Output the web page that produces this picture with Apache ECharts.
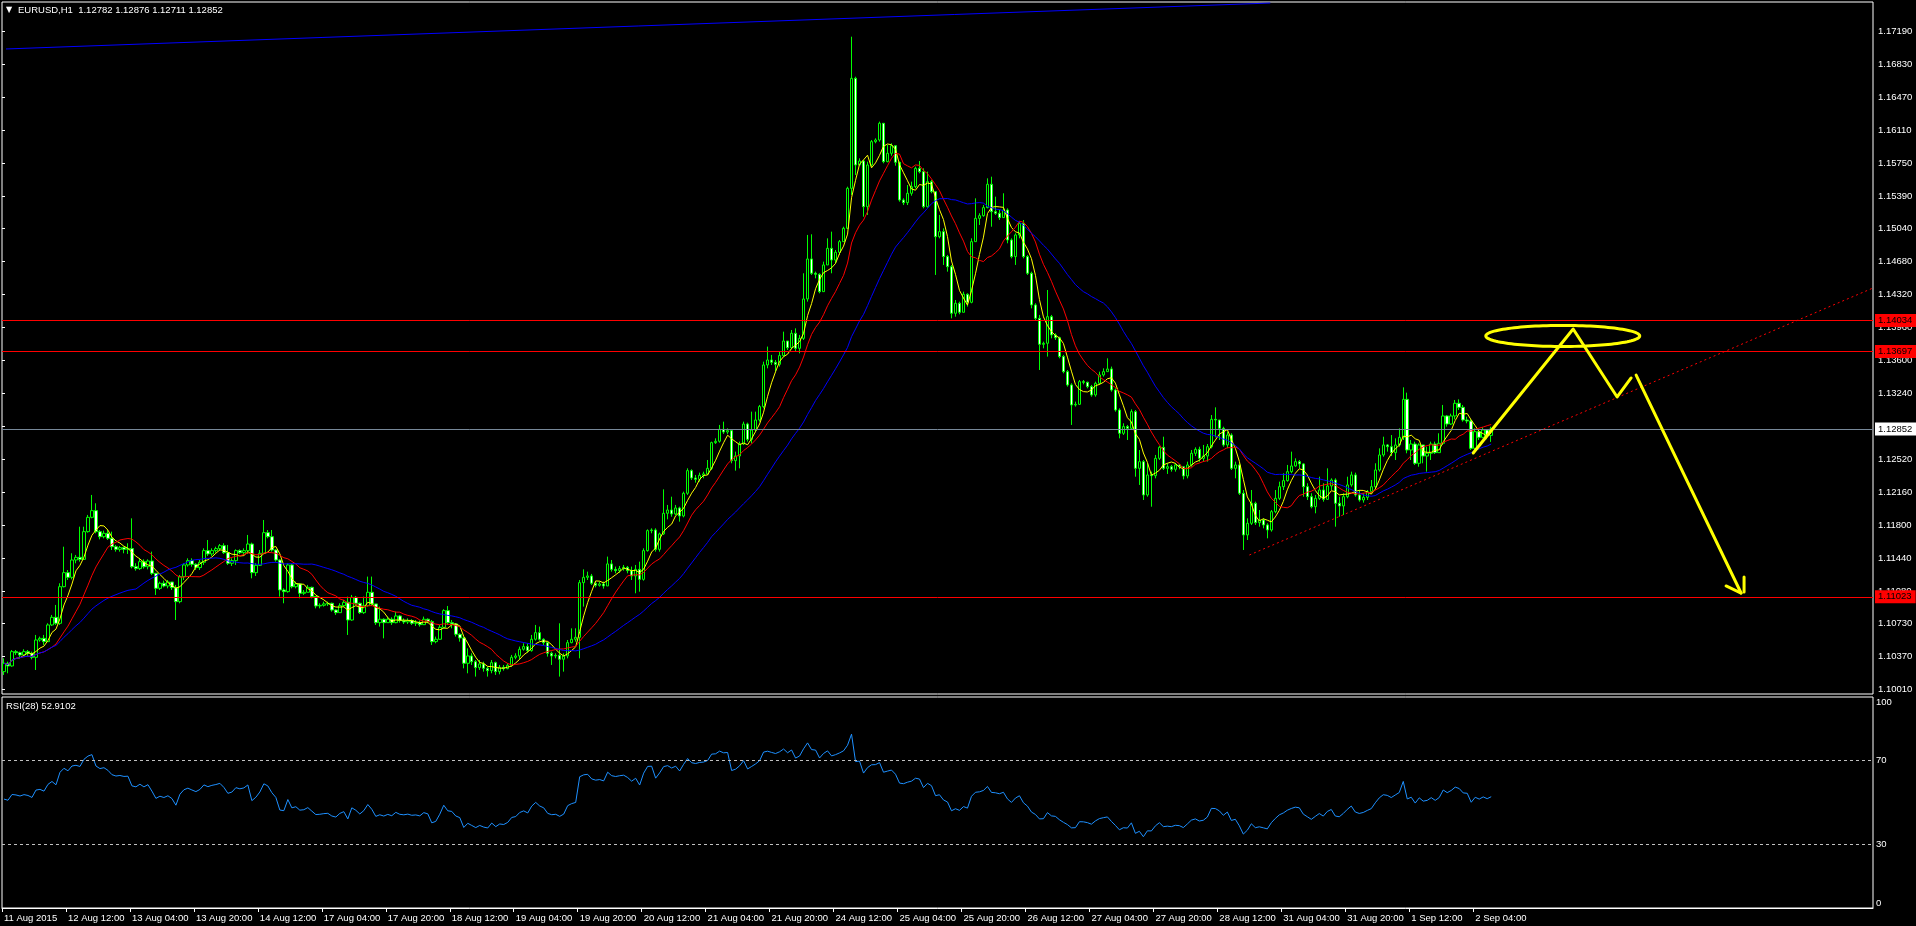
<!DOCTYPE html>
<html><head><meta charset="utf-8">
<script src="https://cdn.jsdelivr.net/npm/echarts@6/dist/echarts.min.js"></script>
<style>html,body{margin:0;padding:0;background:#000;overflow:hidden}#c{width:1916px;height:926px}</style>
</head><body><div id="c"></div>
<script>
// ---------- DATA (EURUSD H1) ----------
const symbolTitle = 'EURUSD,H1  1.12782 1.12876 1.12711 1.12852';
const rsiTitle = 'RSI(28) 52.9102';
const firstOpen = 1.10207;
const closes = [
1.10298,1.10269,1.10425,1.10414,1.10389,1.10425,1.10407,1.10363,1.10552,1.10570,
1.10534,1.10716,1.10799,1.10734,1.11133,1.11286,1.11235,1.11424,1.11453,1.11431,
1.11733,1.11889,1.11962,1.11733,1.11678,1.11715,1.11660,1.11569,1.11540,1.11559,
1.11540,1.11548,1.11351,1.11330,1.11406,1.11351,1.11413,1.11279,1.11115,1.11170,
1.11141,1.11184,1.11123,1.10970,1.11243,1.11370,1.11417,1.11377,1.11341,1.11399,
1.11526,1.11490,1.11526,1.11548,1.11580,1.11504,1.11388,1.11417,1.11526,1.11504,
1.11526,1.11598,1.11286,1.11366,1.11497,1.11722,1.11678,1.11533,1.11424,1.11097,
1.11079,1.11370,1.11133,1.11163,1.11061,1.11072,1.11126,1.11025,1.10923,1.10930,
1.10945,1.10952,1.10879,1.10850,1.10926,1.10963,1.10770,1.11017,1.10952,1.10850,
1.10926,1.11072,1.10945,1.10741,1.10778,1.10741,1.10778,1.10741,1.10814,1.10763,
1.10749,1.10763,1.10734,1.10741,1.10719,1.10778,1.10752,1.10534,1.10560,1.10690,
1.10872,1.10741,1.10727,1.10614,1.10574,1.10298,1.10378,1.10316,1.10251,1.10291,
1.10243,1.10218,1.10305,1.10207,1.10254,1.10240,1.10276,1.10363,1.10378,1.10451,
1.10480,1.10436,1.10560,1.10632,1.10560,1.10523,1.10407,1.10378,1.10385,1.10342,
1.10378,1.10523,1.10560,1.10581,1.11177,1.11235,1.11250,1.11170,1.11148,1.11163,
1.11141,1.11381,1.11322,1.11308,1.11330,1.11344,1.11308,1.11250,1.11322,1.11213,
1.11526,1.11744,1.11751,1.11540,1.11708,1.11933,1.11969,1.11926,1.11991,1.11904,
1.12151,1.12398,1.12318,1.12303,1.12347,1.12362,1.12423,1.12703,1.12718,1.12848,
1.12819,1.12834,1.12507,1.12558,1.12689,1.12906,1.12739,1.12841,1.12950,1.13096,
1.13550,1.13604,1.13579,1.13557,1.13652,1.13811,1.13738,1.13895,1.13731,1.13840,
1.14269,1.14705,1.14549,1.14538,1.14349,1.14640,1.14821,1.14694,1.14778,1.14894,
1.15039,1.15475,1.16674,1.15730,1.15773,1.15275,1.15730,1.15984,1.16002,1.16184,
1.15766,1.15857,1.15940,1.15759,1.15348,1.15319,1.15421,1.15493,1.15693,1.15657,
1.15275,1.15548,1.15439,1.14948,1.15003,1.14731,1.14621,1.14113,1.14222,1.14124,
1.14320,1.14233,1.14894,1.15148,1.15177,1.15265,1.15519,1.15221,1.15203,1.15156,
1.15239,1.14912,1.14731,1.14967,1.15094,1.14731,1.14549,1.14204,1.14058,1.13775,
1.13786,1.14076,1.13877,1.13847,1.13641,1.13477,1.13332,1.13114,1.13121,1.13368,
1.13361,1.13314,1.13223,1.13350,1.13441,1.13477,1.13506,1.13277,1.13059,1.12805,
1.12878,1.12859,1.13041,1.12423,1.12496,1.12133,1.12351,1.12343,1.12532,1.12652,
1.12423,1.12441,1.12412,1.12460,1.12441,1.12340,1.12460,1.12587,1.12630,1.12532,
1.12557,1.12659,1.12957,1.12950,1.12859,1.12678,1.12786,1.12423,1.12460,1.12151,
1.11697,1.11824,1.12042,1.11831,1.11860,1.11806,1.11751,1.11951,1.12096,1.12223,
1.12289,1.12387,1.12449,1.12496,1.12471,1.12223,1.12114,1.12005,1.12096,1.12187,
1.12085,1.12231,1.12296,1.12042,1.12013,1.12114,1.12242,1.12351,1.12133,1.12078,
1.12107,1.12169,1.12223,1.12405,1.12569,1.12678,1.12659,1.12594,1.12678,1.12761,
1.13175,1.12623,1.12688,1.12478,1.12678,1.12557,1.12587,1.12688,1.12594,1.12696,
1.12994,1.12906,1.12994,1.13132,1.13088,1.12950,1.12939,1.12641,1.12823,1.12761,
1.12841,1.12782,1.12852];
const highs = [
1.10352,1.10316,1.10443,1.10443,1.10425,1.10451,1.10443,1.10425,1.10607,1.10589,
1.10607,1.10734,1.10825,1.10934,1.11170,1.11569,1.11315,1.11497,1.11479,1.11787,
1.11787,1.11915,1.12133,1.12042,1.11751,1.11744,1.11751,1.11733,1.11588,1.11577,
1.11569,1.11606,1.11878,1.11388,1.11442,1.11431,1.11431,1.11515,1.11279,1.11188,
1.11199,1.11206,1.11170,1.11152,1.11261,1.11388,1.11442,1.11442,1.11388,1.11424,
1.11551,1.11642,1.11551,1.11569,1.11598,1.11606,1.11588,1.11442,1.11540,1.11540,
1.11551,1.11697,1.11613,1.11388,1.11533,1.11860,1.11751,1.11751,1.11540,1.11431,
1.11115,1.11388,1.11381,1.11188,1.11170,1.11097,1.11152,1.11133,1.11032,1.10952,
1.10970,1.10970,1.10959,1.10886,1.10952,1.10988,1.11025,1.11043,1.11032,1.10959,
1.11025,1.11243,1.11243,1.10923,1.10916,1.10788,1.10807,1.10799,1.10861,1.10825,
1.10788,1.10788,1.10778,1.10770,1.10763,1.10807,1.10788,1.10770,1.10589,1.10716,
1.10887,1.10923,1.10770,1.10734,1.10625,1.10589,1.10461,1.10407,1.10334,1.10334,
1.10316,1.10262,1.10334,1.10316,1.10280,1.10280,1.10298,1.10389,1.10407,1.10480,
1.10516,1.10516,1.10607,1.10716,1.10698,1.10570,1.10534,1.10425,1.10407,1.10734,
1.10407,1.10552,1.10679,1.10679,1.11206,1.11322,1.11297,1.11272,1.11188,1.11188,
1.11188,1.11461,1.11424,1.11352,1.11359,1.11370,1.11359,1.11352,1.11370,1.11406,
1.11551,1.11758,1.11769,1.11769,1.11722,1.12194,1.12024,1.12114,1.12024,1.12005,
1.12169,1.12423,1.12412,1.12351,1.12376,1.12387,1.12514,1.12714,1.12750,1.12896,
1.12932,1.12859,1.12841,1.12605,1.12714,1.12932,1.12921,1.13041,1.13041,1.13114,
1.13586,1.13750,1.13659,1.13604,1.13695,1.13913,1.13786,1.13931,1.13949,1.13877,
1.14549,1.14967,1.14974,1.14567,1.14549,1.14676,1.14930,1.15003,1.14803,1.14912,
1.15057,1.15493,1.17128,1.16692,1.15802,1.15784,1.15766,1.16002,1.16020,1.16202,
1.16184,1.15948,1.15966,1.15893,1.15766,1.15366,1.15511,1.15548,1.15712,1.15773,
1.15693,1.15657,1.15566,1.15439,1.15185,1.15039,1.14749,1.14639,1.14258,1.14240,
1.14349,1.14331,1.14930,1.15366,1.15203,1.15293,1.15584,1.15602,1.15384,1.15239,
1.15421,1.15257,1.14930,1.14985,1.15112,1.15130,1.14749,1.14567,1.14222,1.14095,
1.13804,1.14367,1.14095,1.13895,1.13858,1.13659,1.13495,1.13350,1.13150,1.13386,
1.13386,1.13368,1.13332,1.13368,1.13477,1.13513,1.13622,1.13532,1.13295,1.13077,
1.12914,1.12896,1.13066,1.13059,1.12623,1.12514,1.12478,1.12387,1.12569,1.12666,
1.12768,1.12478,1.12460,1.12478,1.12471,1.12441,1.12496,1.12623,1.12652,1.12659,
1.12678,1.12688,1.13004,1.13088,1.12896,1.12877,1.12823,1.12805,1.12496,1.12478,
1.12187,1.11878,1.12187,1.12060,1.11969,1.11878,1.11824,1.11969,1.12187,1.12278,
1.12369,1.12460,1.12605,1.12532,1.12514,1.12478,1.12260,1.12151,1.12133,1.12332,
1.12260,1.12423,1.12314,1.12314,1.12114,1.12151,1.12332,1.12387,1.12376,1.12187,
1.12151,1.12187,1.12296,1.12478,1.12641,1.12768,1.12688,1.12786,1.12750,1.12859,
1.13306,1.13248,1.12732,1.12714,1.12696,1.12641,1.12659,1.12714,1.12714,1.12805,
1.13114,1.13004,1.13019,1.13168,1.13175,1.13114,1.12986,1.12957,1.12859,1.12852,
1.12870,1.12830,1.12876];
const lows = [
1.10171,1.10189,1.10261,1.10389,1.10352,1.10389,1.10378,1.10341,1.10225,1.10534,
1.10498,1.10552,1.10705,1.10716,1.10716,1.11126,1.11206,1.11213,1.11388,1.11406,
1.11424,1.11722,1.11878,1.11715,1.11649,1.11660,1.11642,1.11533,1.11515,1.11515,
1.11497,1.11490,1.11333,1.11308,1.11315,1.11330,1.11322,1.11261,1.11043,1.11097,
1.11126,1.11115,1.11097,1.10770,1.10952,1.11206,1.11351,1.11351,1.11315,1.11315,
1.11370,1.11468,1.11468,1.11504,1.11526,1.11490,1.11370,1.11359,1.11370,1.11490,
1.11479,1.11490,1.11224,1.11250,1.11359,1.11490,1.11660,1.11515,1.11406,1.11025,
1.10952,1.11068,1.11115,1.11115,1.11006,1.11043,1.11079,1.11006,1.10897,1.10897,
1.10916,1.10923,1.10861,1.10825,1.10861,1.10916,1.10607,1.10762,1.10934,1.10836,
1.10836,1.10916,1.10923,1.10716,1.10698,1.10570,1.10741,1.10716,1.10734,1.10741,
1.10727,1.10727,1.10716,1.10705,1.10698,1.10716,1.10734,1.10498,1.10516,1.10552,
1.10679,1.10716,1.10679,1.10589,1.10534,1.10243,1.10189,1.10280,1.10153,1.10225,
1.10207,1.10153,1.10189,1.10171,1.10178,1.10218,1.10233,1.10262,1.10342,1.10342,
1.10436,1.10414,1.10425,1.10545,1.10545,1.10498,1.10371,1.10280,1.10352,1.10153,
1.10207,1.10352,1.10516,1.10534,1.10352,1.10916,1.11206,1.11152,1.11126,1.11134,
1.11112,1.11152,1.11297,1.11279,1.11286,1.11308,1.11279,1.11206,1.11061,1.11079,
1.11199,1.11515,1.11715,1.11515,1.11515,1.11697,1.11867,1.11896,1.11911,1.11842,
1.11889,1.12133,1.12296,1.12267,1.12278,1.12314,1.12351,1.12405,1.12689,1.12703,
1.12798,1.12798,1.12478,1.12398,1.12423,1.12678,1.12714,1.12696,1.12823,1.12932,
1.13077,1.13513,1.13550,1.13477,1.13532,1.13641,1.13713,1.13720,1.13695,1.13677,
1.13822,1.14240,1.14531,1.14494,1.14331,1.14349,1.14640,1.14549,1.14658,1.14748,
1.14894,1.15039,1.15403,1.15621,1.15730,1.15166,1.15185,1.15712,1.15966,1.15984,
1.15748,1.15759,1.15830,1.15722,1.15330,1.15293,1.15293,1.15395,1.15475,1.15639,
1.15257,1.15265,1.15421,1.14531,1.14930,1.14640,1.14567,1.14058,1.14076,1.14102,
1.14204,1.14186,1.14222,1.14894,1.15076,1.15166,1.15257,1.15057,1.15185,1.15130,
1.15203,1.14876,1.14712,1.14640,1.14930,1.14712,1.14531,1.14167,1.14040,1.13495,
1.13731,1.13641,1.13840,1.13822,1.13622,1.13459,1.13314,1.12896,1.13096,1.13114,
1.13339,1.13295,1.13204,1.13204,1.13332,1.13423,1.13477,1.13259,1.13041,1.12750,
1.12787,1.12732,1.12841,1.12332,1.12242,1.12078,1.12114,1.12005,1.12314,1.12514,
1.12405,1.12362,1.12387,1.12387,1.12412,1.12303,1.12314,1.12441,1.12557,1.12496,
1.12496,1.12496,1.12641,1.12761,1.12732,1.12659,1.12641,1.12405,1.12314,1.12133,
1.11533,1.11642,1.11806,1.11806,1.11787,1.11769,1.11660,1.11733,1.11933,1.12078,
1.12187,1.12278,1.12369,1.12441,1.12423,1.12114,1.12078,1.11987,1.11933,1.12078,
1.12060,1.12078,1.12187,1.11787,1.11896,1.11914,1.12096,1.12223,1.12114,1.12060,
1.12049,1.12078,1.12151,1.12205,1.12387,1.12550,1.12605,1.12557,1.12514,1.12659,
1.12732,1.12587,1.12514,1.12460,1.12441,1.12478,1.12387,1.12514,1.12579,1.12623,
1.12678,1.12877,1.12896,1.12957,1.13059,1.12932,1.12914,1.12623,1.12623,1.12732,
1.12750,1.12740,1.12711];

const timeLabels = ['11 Aug 2015','12 Aug 12:00','13 Aug 04:00','13 Aug 20:00','14 Aug 12:00','17 Aug 04:00',
 '17 Aug 20:00','18 Aug 12:00','19 Aug 04:00','19 Aug 20:00','20 Aug 12:00','21 Aug 04:00','21 Aug 20:00',
 '24 Aug 12:00','25 Aug 04:00','25 Aug 20:00','26 Aug 12:00','27 Aug 04:00','27 Aug 20:00','28 Aug 12:00',
 '31 Aug 04:00','31 Aug 20:00','1 Sep 12:00','2 Sep 04:00'];
const barsPerLabel = 16;
const slotCount = 468;               // bars visible across the window (incl. right shift)
const priceTicks = [1.17190,1.16830,1.16470,1.16110,1.15750,1.15390,1.15040,1.14680,1.14320,1.13960,
 1.13600,1.13240,1.12880,1.12520,1.12160,1.11800,1.11440,1.11080,1.10730,1.10370,1.10010];
const priceMin = 1.099633, priceMax = 1.175061;
const rsiTicks = [0, 30, 70, 100];
const rsiLevels = [70, 30];
const maFast = 5, maMid = 13, maSlow = 34, rsiPeriod = 28;
const redLevels = [1.14034, 1.13697, 1.11023];
const bidPrice = 1.12852;
// drawn objects, in (bar position, price)
const blueTrend = [[1, 1.16994], [317.25, 1.17495]];
const redTrend = [[312, 1.11478], [467.75, 1.14384]];
const arrowPath1 = [[368, 1.12590], [393, 1.13942], [404, 1.13201], [407.5, 1.13408]];
const arrowPath2 = [[408.75, 1.13440], [435, 1.11064]];
const arrowHead = [[431.25, 1.11141], [435, 1.11064]];
const arrowBar = [[435.75, 1.11239], [435.75, 1.11075]];
const ellipse = [[390.4, 1.13866, 19.25, 0.00115]];

// ---------- derived ----------
const candleData = closes.map((c, i) => {
  const o = i === 0 ? firstOpen : closes[i - 1];
  return [i + 0.5, o, c, Math.min(lows[i], o, c), Math.max(highs[i], o, c)];
});
function sma(n) {
  return closes.map((_, i) => {
    const s = Math.max(0, i - n + 1); let sum = 0;
    for (let k = s; k <= i; k++) sum += closes[k];
    return [i + 0.5, sum / (i - s + 1)];
  });
}
function rsi(n) {
  const d = closes.map((c, i) => c - (i ? closes[i - 1] : firstOpen));
  let seed = 0; for (let i = 0; i < n; i++) seed += Math.abs(d[i]); seed /= 2 * n;
  let ag = seed, al = seed;
  return d.map((x, i) => {
    ag = (ag * (n - 1) + Math.max(x, 0)) / n;
    al = (al * (n - 1) + Math.max(-x, 0)) / n;
    return [i + 0.5, 100 - 100 / (1 + ag / al)];
  });
}
const labelTicks = timeLabels.map((_, k) => k * barsPerLabel);
const FONT = 'Liberation Sans';
const txt = { color: '#ffffff', fontFamily: FONT, fontSize: 9.5 };

const tag = (v, bg) => ({
  yAxis: v,
  lineStyle: { color: bg === '#ffffff' ? '#778899' : '#ff0000', width: 1, type: 'solid' },
  label: { show: true, position: 'end', distance: 2, formatter: v.toFixed(5), backgroundColor: bg,
    color: '#000000', fontFamily: FONT, fontSize: 9.5, padding: [2, 4, 1, 3], lineHeight: 10 }
});

const yellowLine = (data) => ({
  type: 'line', xAxisIndex: 0, yAxisIndex: 0, data, symbol: 'none', silent: true, z: 6,
  lineStyle: { color: '#ffff00', width: 3, cap: 'round', join: 'round' }
});

const chart = echarts.init(document.getElementById('c'), null, { renderer: 'canvas' });
chart.setOption({
  backgroundColor: '#000000',
  animation: false,
  graphic: [
    { type: 'text', left: 6, top: 6, style: { text: '▼', fill: '#ffffff', font: '8px "DejaVu Sans"' } },
    { type: 'text', left: 18, top: 5, style: { text: symbolTitle, fill: '#ffffff', font: '9.5px "Liberation Sans"' } },
    { type: 'text', left: 6, top: 701, style: { text: rsiTitle, fill: '#ffffff', font: '9.5px "Liberation Sans"' } }
  ],
  grid: [
    { left: 2, top: 2, width: 1871, height: 692, show: true, borderColor: '#ffffff', borderWidth: 1, backgroundColor: 'transparent' },
    { left: 2, top: 697, width: 1871, height: 211, show: true, borderColor: '#ffffff', borderWidth: 1, backgroundColor: 'transparent' }
  ],
  xAxis: [
    { type: 'value', gridIndex: 0, min: 0, max: slotCount, show: true,
      axisLine: { show: false }, axisTick: { show: false }, axisLabel: { show: false }, splitLine: { show: false } },
    { type: 'value', gridIndex: 1, min: 0, max: slotCount, position: 'bottom',
      axisLine: { show: true, lineStyle: { color: '#ffffff' } },
      axisTick: { show: true, customValues: labelTicks, length: 4, lineStyle: { color: '#ffffff' } },
      axisLabel: { show: true, customValues: labelTicks, ...txt, align: 'left', margin: 5, padding: [0, 0, 0, 2],
        formatter: v => timeLabels[Math.round(v / barsPerLabel)] || '' },
      splitLine: { show: false } }
  ],
  yAxis: [
    { type: 'value', gridIndex: 0, min: priceMin, max: priceMax, position: 'right', scale: true,
      axisLine: { show: false },
      axisTick: { show: true, customValues: priceTicks, length: 3, lineStyle: { color: '#ffffff' } },
      axisLabel: { show: true, customValues: priceTicks, ...txt, margin: 5, formatter: v => v.toFixed(5) },
      splitLine: { show: false } },
    { type: 'value', gridIndex: 1, min: 0, max: 100, position: 'right',
      axisLine: { show: false }, axisTick: { show: false },
      axisLabel: { show: true, customValues: rsiTicks, ...txt, margin: 3,
        verticalAlignMaxLabel: 'top', verticalAlignMinLabel: 'bottom', formatter: v => String(v) },
      splitLine: { show: false } }
  ],
  series: [
    { type: 'candlestick', name: 'EURUSD', xAxisIndex: 0, yAxisIndex: 0, data: candleData,
      encode: { x: 0, y: [1, 2, 3, 4] }, barWidth: 3, z: 3, silent: true,
      itemStyle: { color: '#000000', color0: '#ffffff', borderColor: '#00ff00', borderColor0: '#00ff00',
        borderColorDoji: '#00ff00', borderWidth: 1 },
      markLine: { silent: true, symbol: 'none', animation: false, precision: 5,
        data: [tag(redLevels[0], '#ff0000'), tag(redLevels[1], '#ff0000'), tag(bidPrice, '#ffffff'), tag(redLevels[2], '#ff0000')] } },
    { type: 'line', name: 'MA' + maFast, xAxisIndex: 0, yAxisIndex: 0, data: sma(maFast), symbol: 'none', silent: true, z: 4,
      lineStyle: { color: '#ffff00', width: 1 } },
    { type: 'line', name: 'MA' + maMid, xAxisIndex: 0, yAxisIndex: 0, data: sma(maMid), symbol: 'none', silent: true, z: 4,
      lineStyle: { color: '#ff0000', width: 1 } },
    { type: 'line', name: 'MA' + maSlow, xAxisIndex: 0, yAxisIndex: 0, data: sma(maSlow), symbol: 'none', silent: true, z: 4,
      lineStyle: { color: '#0000ff', width: 1 } },
    { type: 'line', xAxisIndex: 0, yAxisIndex: 0, data: blueTrend, symbol: 'none', silent: true, z: 5, clip: true,
      lineStyle: { color: '#0000ff', width: 1 } },
    { type: 'line', xAxisIndex: 0, yAxisIndex: 0, data: redTrend, symbol: 'none', silent: true, z: 5, clip: true,
      lineStyle: { color: '#ff0000', width: 1, type: [2, 3] } },
    yellowLine(arrowPath1), yellowLine(arrowPath2), yellowLine(arrowHead), yellowLine(arrowBar),
    { type: 'custom', xAxisIndex: 0, yAxisIndex: 0, data: ellipse, silent: true, z: 6, encode: { x: 0, y: 1 },
      renderItem(params, api) {
        const c = api.coord([api.value(0), api.value(1)]);
        const s = api.size([api.value(2), api.value(3)]);
        const pts = [];
        for (let k = 0; k < 120; k++) { const t = k / 120 * Math.PI * 2; pts.push([c[0] + s[0] * Math.cos(t), c[1] + s[1] * Math.sin(t)]); }
        return { type: 'polygon', shape: { points: pts }, style: { fill: null, stroke: '#ffff00', lineWidth: 3 } };
      } },
    { type: 'line', name: 'RSI', xAxisIndex: 1, yAxisIndex: 1, data: rsi(rsiPeriod), symbol: 'none', silent: true,
      lineStyle: { color: '#1e90ff', width: 1 },
      markLine: { silent: true, symbol: 'none', animation: false, label: { show: false },
        lineStyle: { color: '#c0c0c0', width: 1, type: [3, 3] },
        data: rsiLevels.map(v => ({ yAxis: v })) } }
  ]
});
</script></body></html>
